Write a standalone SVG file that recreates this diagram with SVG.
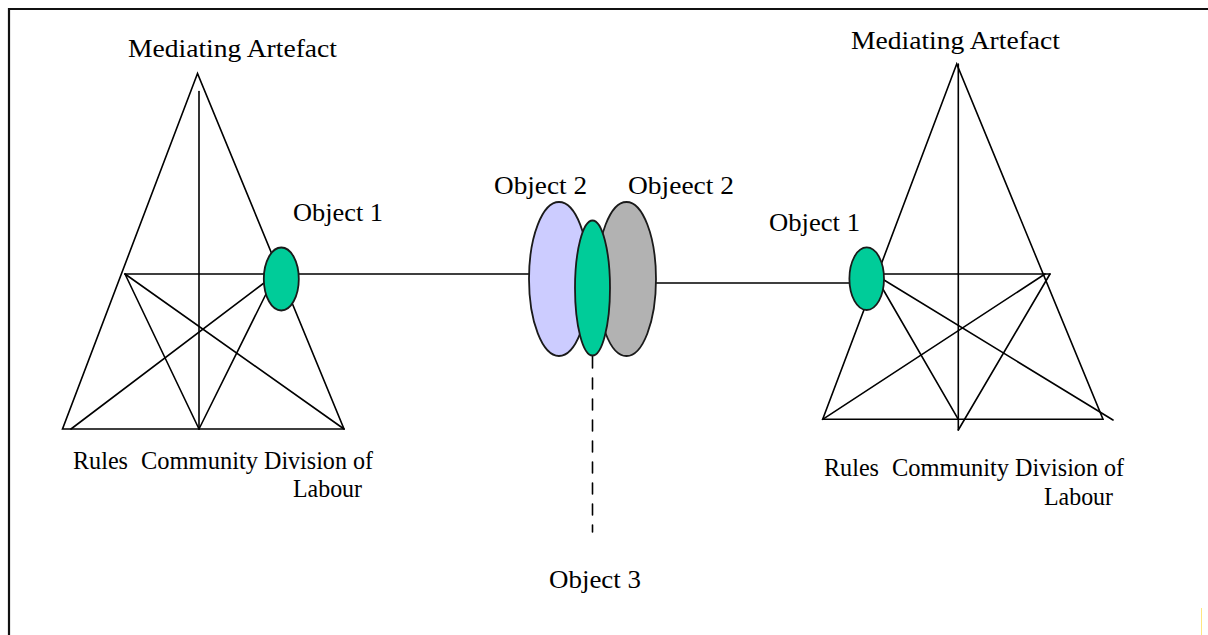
<svg xmlns="http://www.w3.org/2000/svg" width="1208" height="635" viewBox="0 0 1208 635">
  <style>
    .ln { stroke: #000; stroke-width: 1.6; fill: none; stroke-linecap: round; }
    .lbl { font-family: "Liberation Serif", "Times New Roman", serif; font-size: 26px; fill: #000; }
    .ell { stroke: #1a1a1a; stroke-width: 1.8; }
    .green { fill: #00CC99; }
    .lav { fill: #CCCCFF; }
    .gray { fill: #B2B2B2; }
  </style>
  <rect width="1208" height="635" fill="#fff"/>
  <g id="frame">
    <line x1="8" y1="9" x2="1208" y2="9" stroke="#111" stroke-width="2.2"/>
    <line x1="9" y1="8" x2="9" y2="635" stroke="#111" stroke-width="2.2"/>
    <line x1="1201.5" y1="608" x2="1201.5" y2="635" stroke="#FFE680" stroke-width="1"/>
  </g>

  <g id="connectors">
    <line class="ln" x1="298" y1="274" x2="530" y2="274"/>
    <line class="ln" x1="656" y1="283" x2="850" y2="283"/>
    <line class="ln" x1="592.5" y1="355" x2="592.5" y2="368"/>
    <line class="ln" x1="592.5" y1="378" x2="592.5" y2="532" stroke-dasharray="11 10" stroke-linecap="butt"/>
  </g>

  <g id="left-system">
    <polygon class="ln" points="197.5,73.5 62.5,429 344,429"/>
    <line class="ln" x1="199" y1="91.5" x2="199" y2="429"/>
    <line class="ln" x1="125" y1="274" x2="264" y2="274"/>
    <line class="ln" x1="125" y1="274" x2="199" y2="429"/>
    <line class="ln" x1="125" y1="274" x2="344" y2="429"/>
    <line class="ln" x1="264" y1="283" x2="71" y2="429"/>
    <line class="ln" x1="267" y1="292" x2="199" y2="429"/>
    <text class="lbl" x="128" y="57" textLength="209" lengthAdjust="spacingAndGlyphs">Mediating Artefact</text>
    <text class="lbl" x="73" y="469" textLength="55" lengthAdjust="spacingAndGlyphs">Rules</text>
    <text class="lbl" x="141" y="469" textLength="117" lengthAdjust="spacingAndGlyphs">Community</text>
    <text class="lbl" x="264" y="469" textLength="109" lengthAdjust="spacingAndGlyphs">Division of</text>
    <text class="lbl" x="293" y="497" textLength="69" lengthAdjust="spacingAndGlyphs">Labour</text>
  </g>

  <g id="left-object1">
    <ellipse class="ell green" cx="281.3" cy="279" rx="17.5" ry="31.5"/>
    <text class="lbl" x="293" y="221" textLength="90" lengthAdjust="spacingAndGlyphs">Object 1</text>
  </g>

  <g id="object2-left">
    <ellipse class="ell lav" cx="559" cy="279" rx="30" ry="77"/>
    <text class="lbl" x="494" y="194" textLength="93" lengthAdjust="spacingAndGlyphs">Object 2</text>
  </g>
  <g id="object2-right">
    <ellipse class="ell gray" cx="626.5" cy="279" rx="29.5" ry="77"/>
    <text class="lbl" x="628" y="194" textLength="106" lengthAdjust="spacingAndGlyphs">Objeect 2</text>
  </g>
  <g id="object3">
    <ellipse class="ell green" cx="592.5" cy="288" rx="17.5" ry="67.5"/>
    <text class="lbl" x="549" y="588" textLength="92" lengthAdjust="spacingAndGlyphs">Object 3</text>
  </g>

  <g id="right-system">
    <polygon class="ln" points="956.7,64 822.7,419.3 1103,419.3"/>
    <line class="ln" x1="958.3" y1="64" x2="958.3" y2="430"/>
    <line class="ln" x1="884" y1="274" x2="1050" y2="274"/>
    <line class="ln" x1="1045" y1="274" x2="822.7" y2="419.3"/>
    <line class="ln" x1="1050" y1="274" x2="958.3" y2="430"/>
    <line class="ln" x1="884" y1="280" x2="1113" y2="420"/>
    <line class="ln" x1="881.7" y1="287" x2="958.3" y2="419.3"/>
    <text class="lbl" x="851" y="49" textLength="209" lengthAdjust="spacingAndGlyphs">Mediating Artefact</text>
    <text class="lbl" x="824" y="476" textLength="55" lengthAdjust="spacingAndGlyphs">Rules</text>
    <text class="lbl" x="892" y="476" textLength="117" lengthAdjust="spacingAndGlyphs">Community</text>
    <text class="lbl" x="1015" y="476" textLength="109" lengthAdjust="spacingAndGlyphs">Division of</text>
    <text class="lbl" x="1044" y="505" textLength="69" lengthAdjust="spacingAndGlyphs">Labour</text>
  </g>

  <g id="right-object1">
    <ellipse class="ell green" cx="866.7" cy="278.7" rx="17.3" ry="31.3"/>
    <text class="lbl" x="769" y="231" textLength="91" lengthAdjust="spacingAndGlyphs">Object 1</text>
  </g>
</svg>
